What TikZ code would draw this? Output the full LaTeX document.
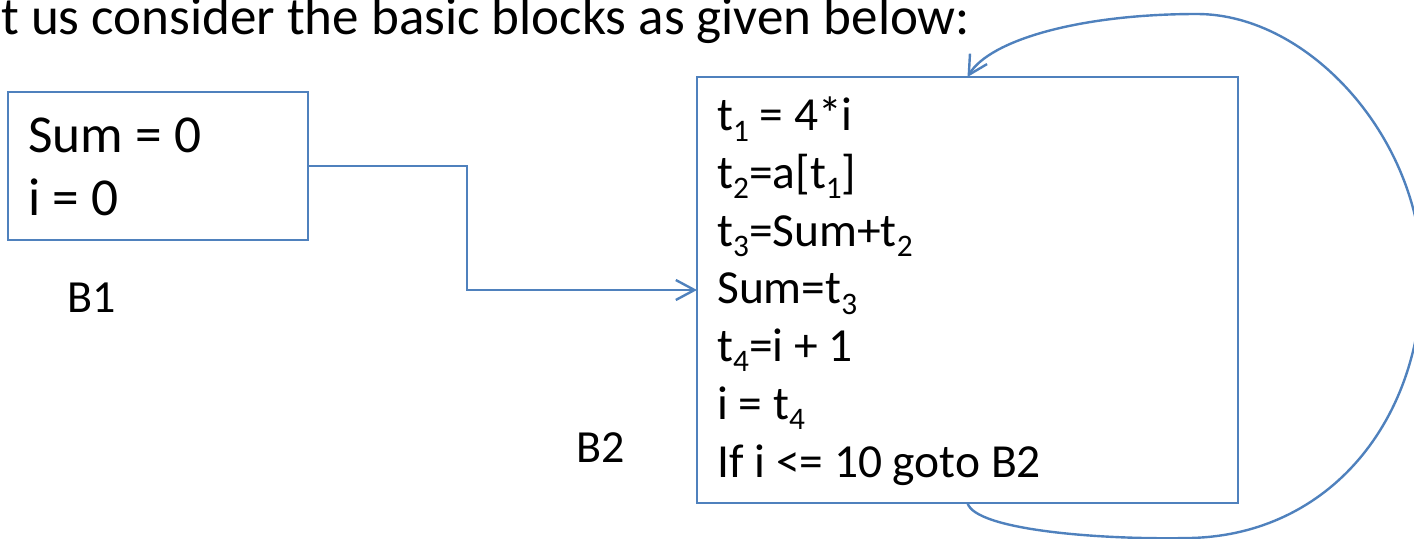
\documentclass[tikz,border=0pt]{standalone}
\usepackage{fontspec}
\setmainfont{Carlito}
\usetikzlibrary{arrows.meta}
\definecolor{offblue}{RGB}{79,129,189}
\newcommand\subsc[1]{\raisebox{-0.22em}{\fontsize{23.5pt}{23.5pt}\selectfont #1}}
\begin{document}
\begin{tikzpicture}[x=0.75pt,y=-0.75pt,
  blk/.style={draw=offblue, line width=1.8pt, inner sep=0pt, outer sep=0pt, rectangle},
  conn/.style={draw=offblue, line width=1.8pt, -{Straight Barb[length=14pt,width=15pt]}},
  codetext/.style={font=\fontsize{35.6pt}{43.3pt}\selectfont, align=left, inner sep=0pt, anchor=base west},
  bigtext/.style={font=\fontsize{40pt}{47.25pt}\selectfont, align=left, inner sep=0pt, anchor=base west},
  lbl/.style={font=\fontsize{34.5pt}{40pt}\selectfont, inner sep=0pt, anchor=base west},
  ttl/.style={font=\fontsize{39.8pt}{46pt}\selectfont, inner sep=0pt, anchor=base west}]
\useasboundingbox (0,0) rectangle (1414,539);
\clip (0,0) rectangle (1414,539);

\node[ttl] (title) at (1,34) {t us consider the basic blocks as given below:};

\node[blk, minimum width=300*0.75pt, minimum height=148*0.75pt] (B1) at (158,166) {};
\node[bigtext] (B1t) at (28,215) {Sum = 0\\i = 0};
\node[lbl] (B1l) at (67,312) {B1};

\node[blk, minimum width=541*0.75pt, minimum height=426*0.75pt] (B2) at (967.5,290) {};
\node[codetext] (B2t) at (717,477) {t\subsc{1} = 4*i\\
t\subsc{2}=a[t\subsc{1}]\\
t\subsc{3}=Sum+t\subsc{2}\\
Sum=t\subsc{3}\\
t\subsc{4}=i + 1\\
i = t\subsc{4}\\
If i <= 10 goto B2};
\node[lbl] (B2l) at (576,462) {B2};

\draw[conn] (B1.east) -- ++(159,0) |- (B2.west);
\draw[conn] (B2.south) .. controls (975,530) and (1100,540) .. (1190,538)
  .. controls (1330,535) and (1422,420) .. (1422,275)
  .. controls (1422,140) and (1310,14) .. (1197,14)
  .. controls (1080,14) and (990,40) .. (B2.north);
\end{tikzpicture}
\end{document}
